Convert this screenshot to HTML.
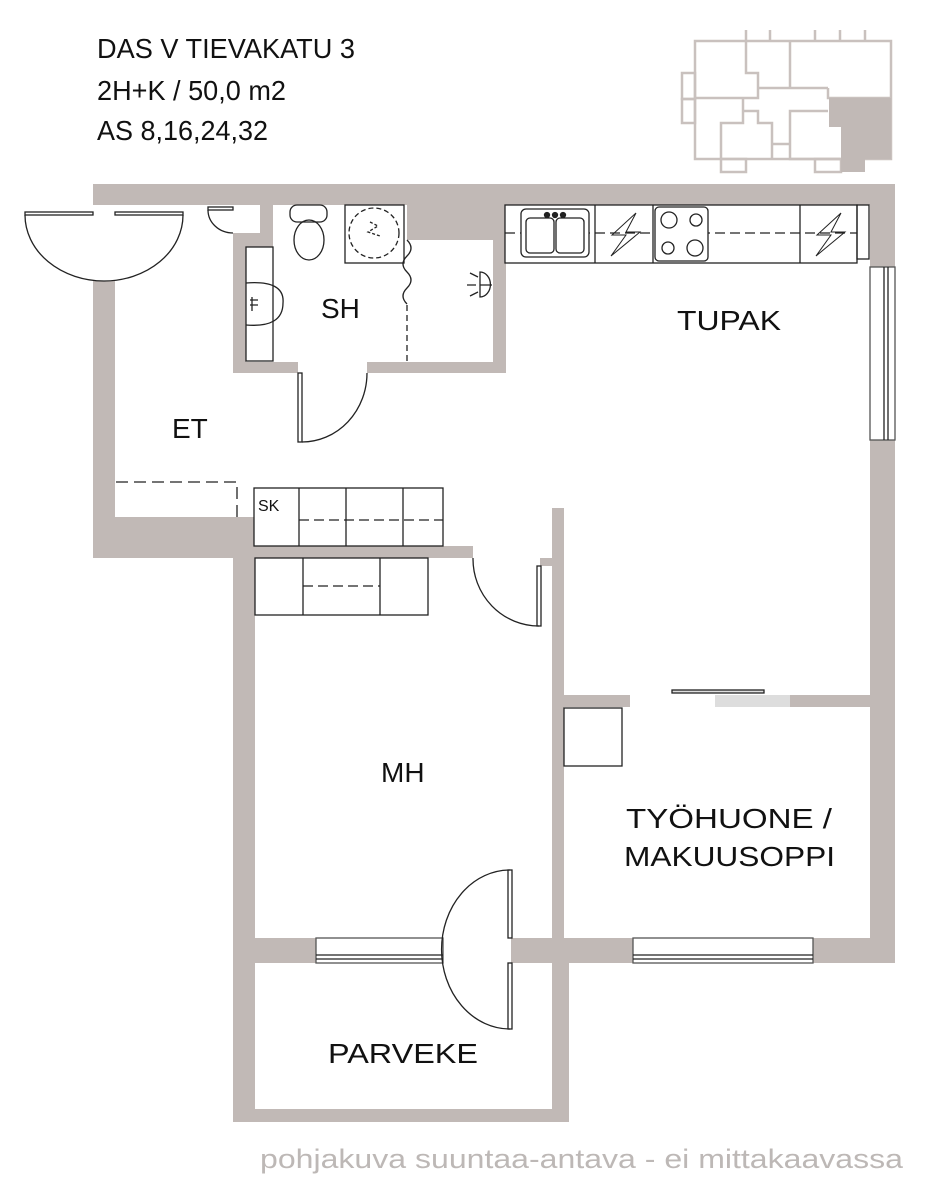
<!DOCTYPE html>
<html><head><meta charset="utf-8"><style>
html,body{margin:0;padding:0;background:#fff;}
svg{display:block;}
text{font-family:"Liberation Sans",sans-serif;fill:#111;}
</style></head><body>
<svg width="927" height="1200" viewBox="0 0 927 1200" xmlns="http://www.w3.org/2000/svg">
<g fill="#c1b9b6" stroke="none">
  <rect x="93" y="184" width="802" height="21"/>
  <rect x="93" y="281" width="22" height="277"/>
  <rect x="93" y="517" width="160" height="41"/>
  <rect x="253" y="546" width="220" height="12"/>
  <rect x="233" y="517" width="22" height="605"/>
  <rect x="870" y="184" width="25" height="83"/>
  <rect x="870" y="440" width="25" height="522"/>
  <rect x="233" y="233" width="40" height="14"/>
  <rect x="260" y="205" width="13" height="42"/>
  <rect x="233" y="233" width="13" height="140"/>
  <rect x="233" y="362" width="65" height="11"/>
  <rect x="367" y="362" width="139" height="11"/>
  <rect x="493" y="205" width="13" height="168"/>
  <rect x="407" y="205" width="86" height="35"/>
  <rect x="552" y="508" width="12" height="454"/>
  <rect x="540" y="558" width="12" height="8"/>
  <rect x="564" y="695" width="66" height="12"/>
  <rect x="790" y="695" width="80" height="12"/>
  <rect x="715" y="695" width="75" height="12" fill="#ddd"/>
  <rect x="233" y="938" width="83" height="25"/>
  <rect x="511" y="938" width="122" height="25"/>
  <rect x="813" y="938" width="82" height="25"/>
  <rect x="552" y="963" width="17" height="159"/>
  <rect x="233" y="1109" width="336" height="13"/>
</g>
<g fill="none" stroke="#222" stroke-width="1.3">
  <rect x="316" y="938" width="127" height="25" fill="#fff" stroke="#555"/>
  <line x1="316" y1="955" x2="443" y2="955"/><line x1="316" y1="959" x2="443" y2="959"/>
  <rect x="633" y="938" width="180" height="25" fill="#fff" stroke="#555"/>
  <line x1="633" y1="955" x2="813" y2="955"/><line x1="633" y1="959" x2="813" y2="959"/>
  <rect x="870" y="267" width="25" height="173" fill="#fff" stroke="#555"/>
  <line x1="884" y1="267" x2="884" y2="440"/><line x1="888" y1="267" x2="888" y2="440"/>
  <rect x="25" y="212" width="68" height="3" fill="#fff"/>
  <rect x="115" y="212" width="68" height="3" fill="#fff"/>
  <path d="M25 215 A79 66 0 0 0 183 215"/>
  <rect x="208" y="207" width="25" height="3"/>
  <path d="M208 210 A25 23 0 0 0 233 233"/>
  <rect x="298" y="373" width="4" height="69"/>
  <path d="M302 442 A65 69 0 0 0 367 373"/>
  <rect x="537" y="566" width="4" height="60"/>
  <path d="M473 558 A66 67 0 0 0 539 626"/>
  <rect x="508" y="870" width="4" height="68"/>
  <rect x="508" y="963" width="4" height="66"/>
  <path d="M510 870 A68 79 0 0 0 510 1029"/>
  <rect x="672" y="690" width="92" height="3" fill="#ddd"/>
  <rect x="246" y="247" width="27" height="114"/>
  <path d="M246 283 Q285 280 283 303 Q283 328 246 325"/>
  <path d="M250 300 h8 M250 305 h8 M252 297 v14"/>
  <rect x="290" y="205" width="37" height="17" rx="7"/>
  <ellipse cx="309" cy="240" rx="15" ry="20"/>
  <rect x="345" y="205" width="59" height="58"/>
  <circle cx="374" cy="233" r="25" stroke-dasharray="5 3"/>
  <path d="M370 222 l8 4 -10 6 12 4" stroke-dasharray="3 2"/>
  <path d="M407 240 q8 8 0 16 q-8 8 0 16 q8 8 0 16 q-8 8 0 16"/>
  <line x1="407" y1="305" x2="407" y2="361" stroke-dasharray="6 4"/>
  <path d="M480 272 A10 12 0 0 1 480 297 Z M480 285 h12 M478 277 l-8 -4 M476 285 h-9 M478 292 l-8 4"/>
  <path d="M237 517 V482 H115" stroke-dasharray="12 6"/>
  <rect x="254" y="488" width="189" height="58" fill="#fff"/>
  <line x1="299" y1="488" x2="299" y2="546"/><line x1="346" y1="488" x2="346" y2="546"/><line x1="403" y1="488" x2="403" y2="546"/>
  <line x1="299" y1="520" x2="443" y2="520" stroke-dasharray="10 5"/>
  <rect x="255" y="558" width="173" height="57"/>
  <line x1="303" y1="558" x2="303" y2="615"/><line x1="380" y1="558" x2="380" y2="615"/>
  <line x1="303" y1="586" x2="380" y2="586" stroke-dasharray="10 5"/>
  <rect x="564" y="708" width="58" height="58"/>
  <rect x="505" y="205" width="352" height="58" fill="#fff"/>
  <rect x="857" y="205" width="12" height="54"/>
  <line x1="595" y1="205" x2="595" y2="263"/><line x1="653" y1="205" x2="653" y2="263"/><line x1="800" y1="205" x2="800" y2="263"/>
  <line x1="505" y1="233" x2="857" y2="233" stroke-dasharray="10 5"/>
  <rect x="521" y="209" width="68" height="48" rx="5" fill="#fff"/>
  <rect x="526" y="218" width="28" height="35" rx="4"/><rect x="556" y="218" width="28" height="35" rx="4"/>
  <circle cx="547" cy="215" r="2.5" fill="#222"/><circle cx="555" cy="215" r="2.5" fill="#222"/><circle cx="563" cy="215" r="2.5" fill="#222"/>
  <rect x="655" y="207" width="53" height="54" rx="4" fill="#fff"/>
  <circle cx="669" cy="220" r="8"/><circle cx="696" cy="220" r="6"/><circle cx="668" cy="248" r="6"/><circle cx="695" cy="248" r="8"/>
  <path d="M636 213 L612 235 H626 L611 256 L640 232 H626 Z" stroke-width="1"/>
  <path d="M841 213 L817 235 H831 L816 256 L845 232 H831 Z" stroke-width="1"/>
</g>
<g fill="none" stroke="#c9c1be" stroke-width="2.5">
  <rect x="695" y="41" width="196" height="118"/>
  <path d="M746 41 V73 H758 V98 H695 M790 41 V88 H828 M828 88 V98 H891 M758 88 H828 M746 30 V41 M770 30 V41 M815 30 V41 M840 30 V41 M865 30 V41"/>
  <rect x="682" y="73" width="13" height="26"/><rect x="682" y="99" width="13" height="24"/>
  <path d="M743 98 V123 H721 V159 M743 111 H758 V123 H772 V159 M772 144 H790 V111 H828 M790 111 V159 H840"/>
  <rect x="721" y="159" width="25" height="13"/><rect x="815" y="159" width="26" height="13"/>
</g>
<path d="M829 98 H891 V159 H865 V172 H841 V127 H829 Z" fill="#c1b9b6"/>
<text x="97" y="58" font-size="28" textLength="258" lengthAdjust="spacingAndGlyphs">DAS V TIEVAKATU 3</text>
<text x="97" y="100" font-size="28" textLength="189" lengthAdjust="spacingAndGlyphs">2H+K / 50,0 m2</text>
<text x="97" y="140" font-size="28" textLength="171" lengthAdjust="spacingAndGlyphs">AS 8,16,24,32</text>
<text x="172" y="438" font-size="28">ET</text>
<text x="321" y="318" font-size="28">SH</text>
<text x="258" y="511" font-size="16">SK</text>
<text x="677" y="330" font-size="28" textLength="104" lengthAdjust="spacingAndGlyphs">TUPAK</text>
<text x="381" y="782" font-size="28">MH</text>
<text x="626" y="828" font-size="28" textLength="206" lengthAdjust="spacingAndGlyphs">TYÖHUONE /</text>
<text x="624" y="866" font-size="28" textLength="211" lengthAdjust="spacingAndGlyphs">MAKUUSOPPI</text>
<text x="328" y="1063" font-size="28" textLength="150" lengthAdjust="spacingAndGlyphs">PARVEKE</text>
<text x="260" y="1168" font-size="27" style="fill:#bdb8b6" textLength="643" lengthAdjust="spacingAndGlyphs">pohjakuva suuntaa-antava - ei mittakaavassa</text>
</svg>
</body></html>
